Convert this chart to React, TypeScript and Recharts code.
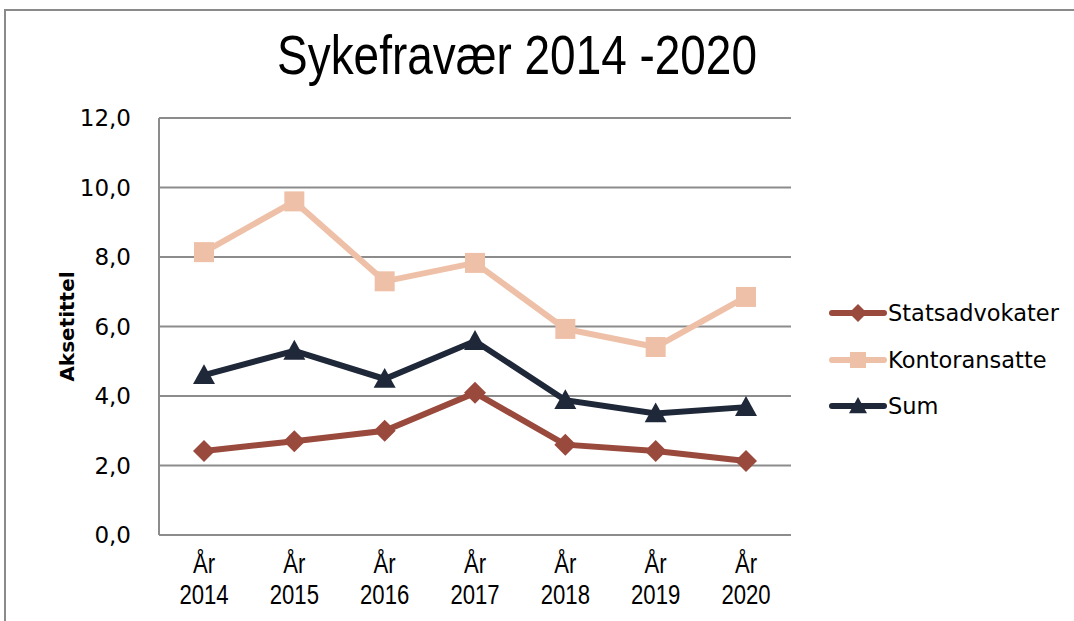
import { CartesianGrid, Line, LineChart, XAxis, YAxis } from 'recharts';

const years = ['2014', '2015', '2016', '2017', '2018', '2019', '2020'];
const statsadvokater = [2.42, 2.7, 3.0, 4.09, 2.6, 2.42, 2.13];
const kontoransatte = [8.14, 9.6, 7.3, 7.83, 5.93, 5.41, 6.85];
const sum = [4.6, 5.3, 4.49, 5.58, 3.88, 3.5, 3.68];
const yTicks = [0, 2, 4, 6, 8, 10, 12];

const data = years.map((y, i) => ({
  year: y,
  Statsadvokater: statsadvokater[i],
  Kontoransatte: kontoransatte[i],
  Sum: sum[i],
}));

const C_STATS = '#9a4a3c';
const C_KONTOR = '#efc0a8';
const C_SUM = '#1f2838';
const GRID = '#8c8c8c';

const Diamond = ({ cx, cy, fill, s = 11 }: any) => (
  <polygon points={`${cx},${cy - s} ${cx + s},${cy} ${cx},${cy + s} ${cx - s},${cy}`} fill={fill} />
);
const Square = ({ cx, cy, fill, s = 10 }: any) => (
  <rect x={cx - s} y={cy - s} width={s * 2} height={s * 2} fill={fill} />
);
const Triangle = ({ cx, cy, fill, s = 11 }: any) => (
  <polygon points={`${cx},${cy - s} ${cx + s},${cy + s * 0.8} ${cx - s},${cy + s * 0.8}`} fill={fill} />
);

const XTick = ({ x, y, payload }: any) => (
  <g transform={`translate(${x},${y}) scale(0.82,1)`}>
    <text x={0} y={0} textAnchor="middle" fontFamily="'Liberation Sans', sans-serif" fontSize={27} fill="#000">
      <tspan x={0} dy={30}>År</tspan>
      <tspan x={0} dy={31}>{payload.value}</tspan>
    </text>
  </g>
);

const legendItems = [
  { name: 'Statsadvokater', color: C_STATS, shape: 'd' },
  { name: 'Kontoransatte', color: C_KONTOR, shape: 's' },
  { name: 'Sum', color: C_SUM, shape: 't' },
];

const LegendBox = () => (
  <div
    style={{
      position: 'absolute',
      left: 829,
      top: 290,
      fontFamily: "'DejaVu Sans', sans-serif",
      fontSize: 22.5,
      color: '#000',
    }}
  >
    {legendItems.map((it) => (
      <div key={it.name} style={{ display: 'flex', alignItems: 'center', height: 46.5 }}>
        <svg width={58} height={24}>
          <line x1={3} y1={12} x2={55} y2={12} stroke={it.color} strokeWidth={6} strokeLinecap="round" />
          {it.shape === 'd' && <Diamond cx={29} cy={12} fill={it.color} s={9} />}
          {it.shape === 's' && <Square cx={29} cy={12} fill={it.color} s={8} />}
          {it.shape === 't' && <Triangle cx={29} cy={12} fill={it.color} s={9} />}
        </svg>
        <span style={{ marginLeft: 1 }}>{it.name}</span>
      </div>
    ))}
  </div>
);

export default function App() {
  return (
    <div style={{ position: 'relative', width: 1074, height: 621, overflow: 'hidden', background: '#fff' }}>
      <style>{`body{margin:0}`}</style>
      <div
        style={{
          position: 'absolute',
          left: 4,
          top: 9,
          width: 1200,
          height: 800,
          borderLeft: '2px solid #8a8a8a',
          borderTop: '2px solid #8a8a8a',
        }}
      />
      <div
        style={{
          position: 'absolute',
          top: 22,
          left: 0,
          width: 1034,
          textAlign: 'center',
          fontFamily: "'Liberation Sans', sans-serif",
          fontSize: 56,
          color: '#000',
          transform: 'scaleX(0.82)',
        }}
      >
        Sykefravær 2014 -2020
      </div>
      <div style={{ position: 'absolute', left: 0, top: 0 }}>
        <LineChart width={1074} height={621} data={data} margin={{ top: 118, right: 283, bottom: 0, left: 0 }}>
          <CartesianGrid vertical={false} stroke={GRID} strokeWidth={2} />
          <XAxis
            dataKey="year"
            tick={<XTick />}
            tickLine={false}
            axisLine={{ stroke: GRID, strokeWidth: 2 }}
            interval={0}
            height={86}
            padding={{ left: 45, right: 45 }}
          />
          <YAxis
            domain={[0, 12]}
            ticks={yTicks}
            width={159}
            tickFormatter={(v: number) => v.toFixed(1).replace('.', ',')}
            tick={{ fontFamily: "'DejaVu Sans', sans-serif", fontSize: 23, fill: '#000' }}
            tickLine={false}
            tickMargin={22}
            axisLine={{ stroke: GRID, strokeWidth: 2 }}
            label={{
              value: 'Aksetittel',
              angle: -90,
              position: 'insideLeft',
              dx: 62,
              style: { fontFamily: "'DejaVu Sans', sans-serif", fontSize: 20, fontWeight: 'bold', fill: '#000', textAnchor: 'middle' },
            }}
          />
          <Line
            dataKey="Statsadvokater"
            stroke={C_STATS}
            strokeWidth={6}
            dot={(p: any) => <Diamond key={p.index} cx={p.cx} cy={p.cy} fill={C_STATS} />}
            isAnimationActive={false}
          />
          <Line
            dataKey="Kontoransatte"
            stroke={C_KONTOR}
            strokeWidth={6}
            dot={(p: any) => <Square key={p.index} cx={p.cx} cy={p.cy} fill={C_KONTOR} />}
            isAnimationActive={false}
          />
          <Line
            dataKey="Sum"
            stroke={C_SUM}
            strokeWidth={6}
            dot={(p: any) => <Triangle key={p.index} cx={p.cx} cy={p.cy} fill={C_SUM} />}
            isAnimationActive={false}
          />
        </LineChart>
      </div>
      <LegendBox />
    </div>
  );
}
